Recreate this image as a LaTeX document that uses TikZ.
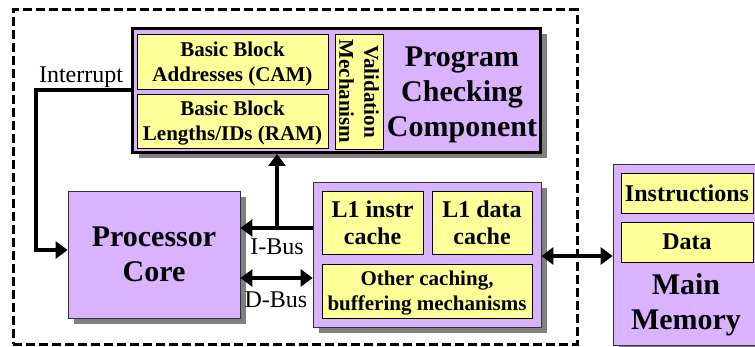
\documentclass[tikz,border=0pt]{standalone}
\usepackage{fontspec}
\setmainfont{Liberation Serif}
\usetikzlibrary{arrows.meta,shadows}
\definecolor{lav}{RGB}{217,179,255}
\definecolor{lemon}{RGB}{255,255,153}
\newcommand\fsmall{\fontsize{21}{25}\selectfont\bfseries}
\newcommand\fmid{\fontsize{24}{27}\selectfont\bfseries}
\newcommand\fbig{\fontsize{30}{35}\selectfont\bfseries}
\newcommand\freg{\fontsize{24}{28}\selectfont}
\newcommand\lowerby{\rule{0pt}{19pt}}
\begin{document}
\begin{tikzpicture}[x=1pt,y=-1pt,
  chipframe/.style={draw=black, line width=3pt, dash pattern=on 9pt off 4pt, inner sep=0pt},
  purplebox/.style={draw=black!80, line width=0.8pt, fill=lav, inner sep=0pt, align=center,
    drop shadow={shadow xshift=6pt, shadow yshift=-6pt, fill=black!50, opacity=1}},
  yellowbox/.style={draw=black, line width=0.8pt, fill=lemon, inner sep=0pt, align=center},
  lbl/.style={font=\freg, inner sep=0pt, anchor=base},
  bus/.style={draw=black, line width=4pt},
  tip/.tip={Triangle[length=12pt,width=17pt]}
]
\useasboundingbox (0,0) rectangle (755,347);

% chip boundary
\node[chipframe, minimum width=564pt, minimum height=334pt] (chip) at (295,177) {};

% program checking component
\node[purplebox, draw=black, line width=3pt, minimum width=408pt, minimum height=124pt] (pcc) at (336.5,90.5) {};
\node[yellowbox, font=\fsmall, minimum width=191pt, minimum height=55pt] (bba) at (232.5,61.5) {\lowerby Basic Block\\Addresses (CAM)};
\node[yellowbox, font=\fsmall, minimum width=191pt, minimum height=54pt] (bbl) at (232.5,121) {\lowerby Basic Block\\Lengths/IDs (RAM)};
\node[yellowbox, font=\fsmall, rotate=-90, minimum width=115pt, minimum height=48pt] (valid) at (359,91.5) {Validation\\Mechanism};
\node[font=\fbig, align=center, inner sep=0pt] (pcctext) at (462,95) {Program\\Checking\\Component};

% processor core
\node[purplebox, font=\fbig, minimum width=172pt, minimum height=127pt] (proc) at (154,254.5) {Processor\\Core};

% caches
\node[purplebox, minimum width=228pt, minimum height=145pt] (cache) at (427,254.5) {};
\node[yellowbox, font=\fmid, minimum width=101pt, minimum height=63pt] (l1i) at (372.5,222.5) {L1 instr\\cache};
\node[yellowbox, font=\fmid, minimum width=100pt, minimum height=63pt] (l1d) at (482,222.5) {L1 data\\cache};
\node[yellowbox, font=\fsmall, minimum width=210pt, minimum height=54pt] (other) at (427,291) {\lowerby Other caching,\\buffering mechanisms};

% main memory
\node[purplebox, minimum width=143pt, minimum height=181pt] (mm) at (684.5,254.5) {};
\node[yellowbox, font=\fmid, minimum width=132pt, minimum height=40pt] (instr) at (687,193) {Instructions};
\node[yellowbox, font=\fmid, minimum width=132pt, minimum height=40pt] (data) at (687,242) {Data};
\node[font=\fbig, align=center, inner sep=0pt] (mmtext) at (686,305) {Main\\Memory};

% connectors
\coordinate (intx) at (36,0);
\coordinate (ibus) at (277,228);
\coordinate (dbus) at (277,278);
\coordinate (memlink) at (577,256);

\draw[bus, -{tip}] (pcc.west) -- (pcc.west -| intx) |- ([yshift=4.5pt]proc.west);
\draw[bus, -{tip}] (cache.west |- ibus) -- (proc.east |- ibus);
\draw[bus, -{tip}] (ibus) -- (ibus |- pcc.south);
\draw[bus, {tip}-{tip}] (proc.east |- dbus) -- (cache.west |- dbus);
\draw[bus, {tip}-{tip}] (cache.east |- memlink) -- (mm.west |- memlink);

% labels
\node[lbl] (intlbl) at (81,83) {Interrupt};
\node[lbl] (ibuslbl) at (277,255) {I-Bus};
\node[lbl] (dbuslbl) at (276,308) {D-Bus};
\end{tikzpicture}
\end{document}
